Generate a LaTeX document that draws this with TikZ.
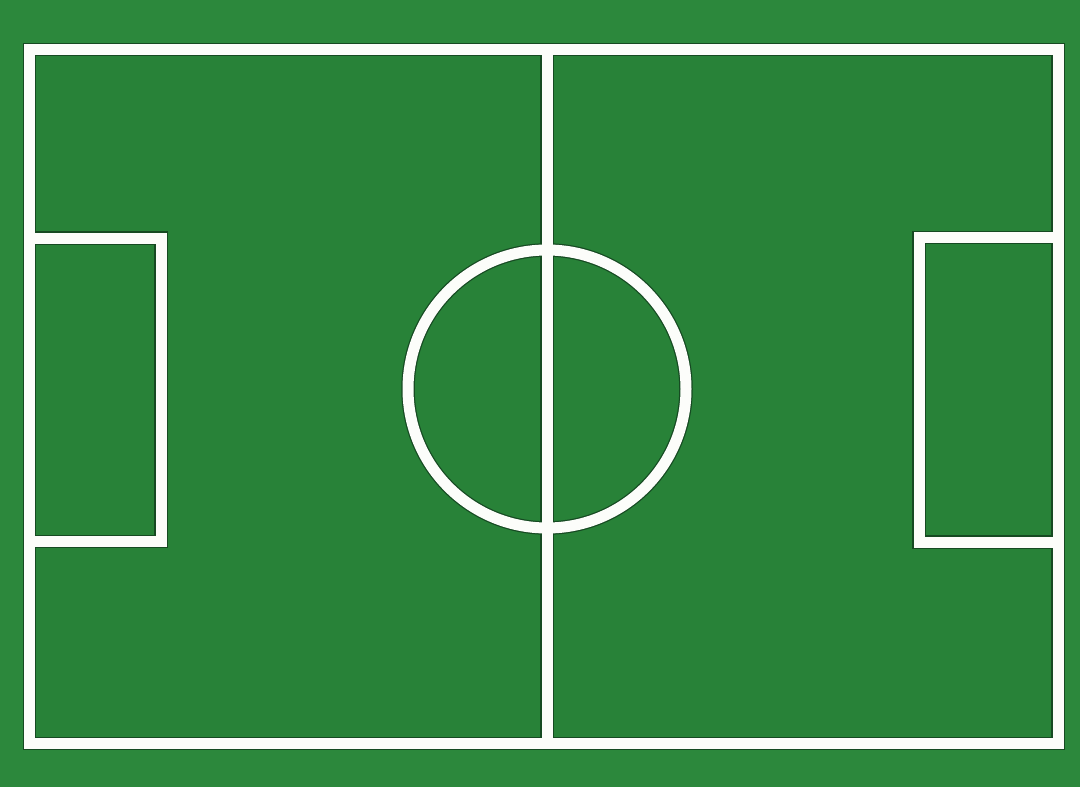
\documentclass[tikz,border=0pt]{standalone}
\definecolor{grass}{RGB}{44,136,60}
\definecolor{turf}{RGB}{40,130,56}
\definecolor{edge}{RGB}{22,74,34}
\definecolor{chalk}{RGB}{252,253,250}
\tikzset{
  outline/.style={draw=edge, line width=13.5pt, miter limit=10},
  mark line/.style={draw=chalk, line width=11pt, miter limit=10}
}
\newcommand{\pitchlines}[1]{%
  \draw[#1] (29.5,49.5) rectangle (1058,743.5);
  \draw[#1] (547,49.5) -- (547,743.5);
  \draw[#1] (547,389) circle[radius=139];
  \draw[#1] (29.5,238) -- (161,238) -- (161,541.5) -- (29.5,541.5);
  \draw[#1] (1058,237.5) -- (919,237.5) -- (919,542) -- (1058,542);
}
\begin{document}
\begin{tikzpicture}[x=1pt,y=-1pt]
  \fill[grass] (0,0) rectangle (1080,787);
  \useasboundingbox (0,0) rectangle (1080,787);
  \fill[turf] (29.5,49.5) rectangle (1058,743.5);
  \pitchlines{outline}
  \pitchlines{mark line}
\end{tikzpicture}
\end{document}
